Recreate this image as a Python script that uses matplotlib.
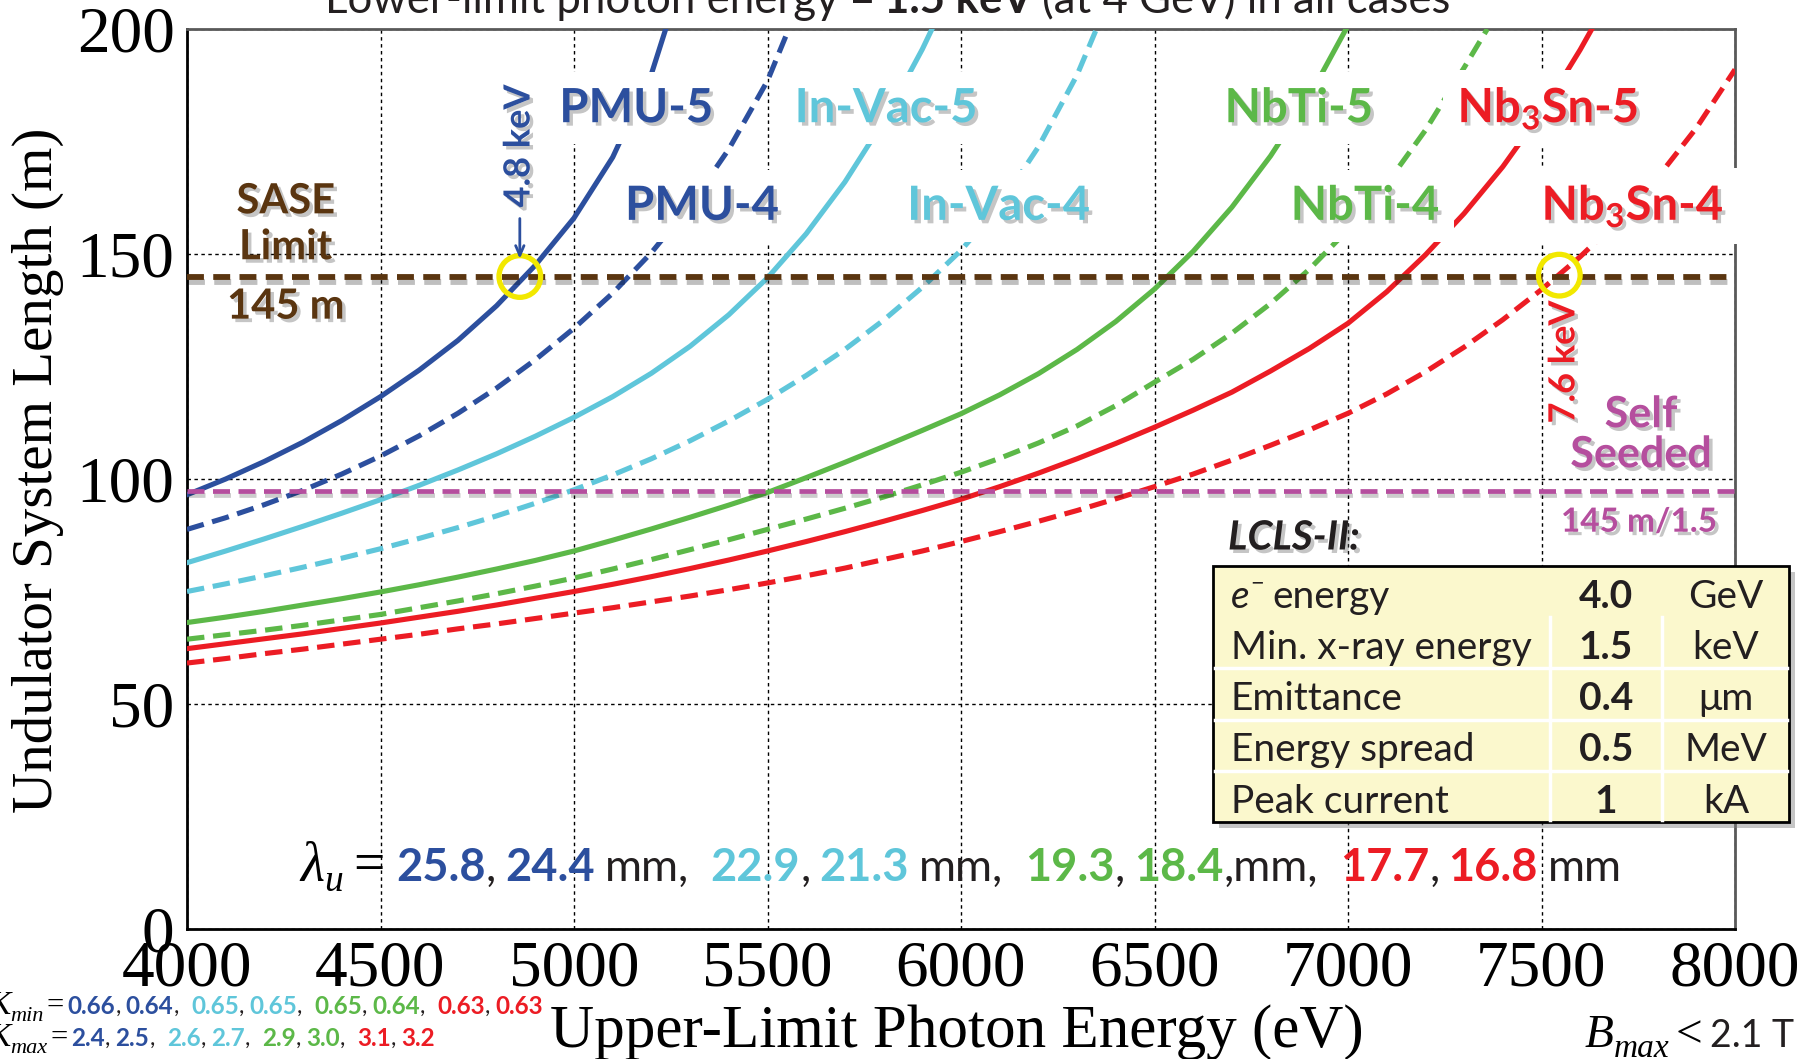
import matplotlib
matplotlib.use("Agg")
import matplotlib.pyplot as plt
import matplotlib.patheffects as pe
from matplotlib.patches import Rectangle

ev_pmu5 = list(range(4000, 5201, 100)) + [5237]
m_pmu5 = [96.5, 100.0, 103.9, 108.2, 113.0, 118.3, 124.2, 130.8, 138.5, 147.5, 158, 171.5, 190, 200]
ev_pmu4 = list(range(4000, 5501, 100)) + [5555]
m_pmu4 = [88.8, 91.4, 94.3, 97.5, 101.1, 105.1, 109.6, 114.6, 120.2, 126.5, 133.5, 141.3, 150.3,
          160.8, 173.3, 188.5, 200]
ev_invac5 = list(range(4000, 5901, 100)) + [5925]
m_invac5 = [81.4, 84.0, 86.7, 89.5, 92.4, 95.4, 98.6, 102.0, 105.6, 109.5, 113.7, 118.3, 123.5,
            129.5, 136.5, 144.7, 154.5, 166.0, 179.5, 195.5, 200]
ev_invac4 = list(range(4000, 6301, 100)) + [6350]
m_invac4 = [75.0, 76.7, 78.5, 80.4, 82.4, 84.5, 86.8, 89.2, 91.8, 94.6, 97.6, 100.9, 104.5, 108.5,
            112.9, 117.7, 123.0, 128.8, 135.3, 142.6, 150.8, 160.8, 173.8, 189.8, 200]
ev_nbti5 = list(range(4000, 6901, 100)) + [6995]
m_nbti5 = [68.1, 69.3, 70.6, 72.0, 73.4, 74.9, 76.5, 78.2, 80.0, 81.9, 84.0, 86.4, 88.9, 91.5, 94.2,
           97.0, 100.3, 103.7, 107.2, 110.8, 114.5, 118.7, 123.4, 128.8, 135.0, 142.2, 150.6, 160.4,
           171.8, 185.0, 200]
ev_nbti4 = list(range(4000, 7301, 100)) + [7360]
m_nbti4 = [64.4, 65.4, 66.4, 67.5, 68.7, 69.9, 71.4, 72.9, 74.5, 76.2, 78.0, 80.0, 82.1, 84.3, 86.5,
           88.8, 91.1, 93.5, 96.0, 98.7, 101.5, 104.6, 108.0, 111.8, 116.3, 121.5, 126.6, 132.4,
           139.0, 146.6, 155.4, 165.6, 177.5, 191.4, 200]
ev_nb3sn5 = list(range(4000, 7601, 100)) + [7630]
m_nb3sn5 = [62.3, 63.4, 64.5, 65.6, 66.8, 68.0, 69.3, 70.6, 72.0, 73.5, 75.0, 76.6, 78.3, 80.1, 82.0,
            84.0, 86.1, 88.3, 90.6, 93.0, 95.5, 98.3, 101.3, 104.5, 107.9, 111.5, 115.3, 119.3,
            124.0, 129.0, 134.6, 141.6, 149.8, 159.0, 169.4, 181.4, 195.4, 200]
ev_nb3sn4 = list(range(4000, 8001, 100))
m_nb3sn4 = [59.1, 60.1, 61.2, 62.2, 63.3, 64.4, 65.5, 66.7, 67.8, 69.0, 70.2, 71.4, 72.7, 74.0, 75.4,
            76.9, 78.5, 80.2, 82.1, 84.0, 86.1, 88.3, 90.6, 93.0, 95.6, 98.3, 101.1, 104.2, 107.5,
            110.9, 114.6, 118.9, 123.8, 129.3, 135.4, 142.1, 149.4, 157.6, 167.0, 178.0, 191.0]

sase_limit = 145
seeded_limit = 97.3
mark_ev = [4860, 7546]
mark_m = [145, 145.3]

lambda_u = [25.8, 24.4, 22.9, 21.3, 19.3, 18.4, 17.7, 16.8]
k_min = [0.66, 0.64, 0.65, 0.65, 0.65, 0.64, 0.63, 0.63]
k_max = [2.4, 2.5, 2.6, 2.7, 2.9, 3.0, 3.1, 3.2]

table_names = ["energy", "Min. x-ray energy", "Emittance", "Energy spread", "Peak current"]
table_vals = ["4.0", "1.5", "0.4", "0.5", "1"]
table_units = ["GeV", "keV", "\u03bcm", "MeV", "kA"]

# ---- style ----
PMU = "#2c4f9e"
INVAC = "#5fc6da"
NBTI = "#5cb848"
NB3SN = "#ec1c24"
BROWN = "#5a3510"
MAGENTA = "#b54e9e"
YELLOW = "#f2e800"
INK = "#231f20"
SANS = "Lato"
SERIF = "Liberation Serif"

plt.rcParams["font.family"] = [SANS, "DejaVu Sans"]
plt.rcParams["mathtext.fontset"] = "custom"
plt.rcParams["mathtext.rm"] = "Lato"
plt.rcParams["mathtext.bf"] = "Lato:bold"
plt.rcParams["mathtext.default"] = "bf"

W, H = 1798, 1059
fig = plt.figure(figsize=(W / 100, H / 100), dpi=100)
ax = fig.add_axes([187 / W, 130 / H, 1548 / W, 900 / H])

shadow = [pe.withSimplePatchShadow(offset=(2.5, -2.5), shadow_rgbFace="0.35", alpha=0.35)]
dash = (0, (3.4, 1.7))

curves = [
    (ev_pmu5, m_pmu5, PMU, "-"), (ev_pmu4, m_pmu4, PMU, dash),
    (ev_invac5, m_invac5, INVAC, "-"), (ev_invac4, m_invac4, INVAC, dash),
    (ev_nbti5, m_nbti5, NBTI, "-"), (ev_nbti4, m_nbti4, NBTI, dash),
    (ev_nb3sn5, m_nb3sn5, NB3SN, "-"), (ev_nb3sn4, m_nb3sn4, NB3SN, dash),
]
for x, y, c, ls in curves:
    ax.plot(x, y, color=c, lw=3.7, linestyle=ls, dash_capstyle="butt", zorder=3)

ax.axhline(sase_limit, color=BROWN, lw=4.2, ls=(0, (2.9, 1.6)), zorder=4,
           path_effects=[pe.SimpleLineShadow(offset=(1, -4), shadow_color="k", alpha=0.25), pe.Normal()])
ax.axhline(seeded_limit, color=MAGENTA, lw=3.4, ls=(0, (3.6, 1.8)), zorder=4,
           path_effects=[pe.SimpleLineShadow(offset=(1, -3), shadow_color="k", alpha=0.2), pe.Normal()])

ax.scatter(mark_ev, mark_m, s=900, facecolors="none", edgecolors=YELLOW, linewidths=3.8, zorder=7)

ax.set_xlim(4000, 8000)
ax.set_ylim(0, 200)
ax.set_xticks(range(4000, 8001, 500))
ax.set_yticks(range(0, 201, 50))
ax.grid(True, color="k", lw=1.0, ls=(0, (2.5, 2.5)))
ax.tick_params(length=0, labelsize=47, labelfontfamily=SERIF)
ax.tick_params(axis="y", pad=9)
ax.tick_params(axis="x", pad=8)
for s in ["left", "bottom"]:
    ax.spines[s].set(color="k", lw=2)
for s in ["top", "right"]:
    ax.spines[s].set(color="0.35", lw=2)

ax.set_xlabel("Upper-Limit Photon Energy (eV)", fontfamily=SERIF, fontsize=44, va="center")
ax.xaxis.set_label_coords(0.497, -0.1144)
ax.set_ylabel("Undulator System Length (m)", fontfamily=SERIF, fontsize=41, va="center")
ax.yaxis.set_label_coords(-0.0963, 0.51)

# curve labels, each on a white box that masks the lines behind it
labels = [
    ("PMU-5", 5161, 182.4, PMU), ("PMU-4", 5331, 160.7, PMU),
    ("In-Vac-5", 5807, 182.4, INVAC), ("In-Vac-4", 6098, 160.7, INVAC),
    ("NbTi-5", 6873, 182.4, NBTI), ("NbTi-4", 7044, 160.7, NBTI),
    ("Nb$_3$Sn-5", 7517, 182.4, NB3SN), ("Nb$_3$Sn-4", 7736, 160.7, NB3SN),
]
for txt, x, y, c in labels:
    ax.text(x, y, txt, color=c, fontsize=34, fontweight="bold", ha="center", va="center",
            zorder=6, path_effects=shadow,
            bbox=dict(boxstyle="square,pad=0.3", fc="white", ec="none"))

for txt, y in [("SASE", 161.7), ("Limit", 151.5), ("145 m", 138.3)]:
    ax.text(4255, y, txt, color=BROWN, fontsize=30, fontweight="bold", ha="center", va="center",
            zorder=6, path_effects=shadow)

ax.text(4858, 174, "4.8 keV", color=PMU, fontsize=26, fontweight="bold", rotation=90,
        ha="center", va="center", zorder=6, path_effects=shadow)
ax.annotate("", xy=(4860, 148.3), xytext=(4860, 158.5), zorder=7,
            arrowprops=dict(arrowstyle="->,head_length=0.7,head_width=0.3", color=PMU, lw=2))
ax.text(7558, 126, "7.6 keV", color=NB3SN, fontsize=26, fontweight="bold", rotation=90,
        ha="center", va="center", zorder=6, path_effects=shadow)

ax.text(7757, 114.4, "Self", color=MAGENTA, fontsize=31, fontweight="bold", ha="center", va="center",
        zorder=6, path_effects=shadow)
ax.text(7757, 105.5, "Seeded", color=MAGENTA, fontsize=31, fontweight="bold", ha="center", va="center",
        zorder=6, path_effects=shadow)
ax.text(7752, 90.4, "145 m/1.5", color=MAGENTA, fontsize=24, fontweight="bold", ha="center", va="center",
        zorder=6, path_effects=shadow)

# ---- overlay in pixel coordinates for table and free text ----
ov = fig.add_axes([0, 0, 1, 1], zorder=10)
ov.set_xlim(0, W)
ov.set_ylim(H, 0)
ov.axis("off")
ov.patch.set_visible(False)
renderer = fig.canvas.get_renderer()


def rich(x, y, pieces):
    # pieces: (text, kwargs, gap in px after)
    for s, kw, gap in pieces:
        kw = dict(kw)
        dy = kw.pop("dy", 0)
        t = ov.text(x, y + dy, s, ha="left", va="baseline", **kw)
        x += t.get_window_extent(renderer).width + gap


B = dict(fontweight="bold")
# title (cut off at top)
rich(325, 13, [("Lower-limit photon energy =", dict(fontsize=31.5, color=INK), 9),
               ("1.5 keV", dict(fontsize=31.5, color=INK, **B), 9),
               ("(at 4 GeV) in all cases", dict(fontsize=31.5, color=INK), 0)])

ov.text(1228, 538, "LCLS-II:", fontsize=29, fontweight="bold", fontstyle="italic", color=INK,
        va="center", ha="left", path_effects=shadow)

# table
tx0, ty0, tw, rh = 1213, 566, 576, 51.2
th = rh * len(table_names)
ov.add_patch(Rectangle((tx0 + 6, ty0 + 6), tw, th, fc="0.5", ec="none", alpha=0.45))
ov.add_patch(Rectangle((tx0, ty0), tw, th, fc="#fbf8cd", ec="k", lw=2))
for i in range(2, len(table_names)):
    ov.plot([tx0 + 2, tx0 + tw - 2], [ty0 + i * rh] * 2, color="white", lw=2.5)
for xc in [1550, 1662]:
    ov.plot([xc, xc], [ty0 + rh, ty0 + th - 2], color="white", lw=2.5)
for i, (name, val, unit) in enumerate(zip(table_names, table_vals, table_units)):
    yc = ty0 + (i + 0.62) * rh
    if i == 0:
        rich(1231, yc + 10, [("e", dict(fontsize=28, fontstyle="italic", color=INK), 1),
                             ("\u2212", dict(fontsize=17, color=INK, dy=-17), 8),
                             (name, dict(fontsize=28, color=INK), 0)])
    else:
        ov.text(1231, yc + 10, name, fontsize=28, color=INK, ha="left", va="baseline")
    ov.text(1606, yc + 10, val, fontsize=28, fontweight="bold", color=INK, ha="center", va="baseline")
    ov.text(1726, yc + 10, unit, fontsize=28, color=INK, ha="center", va="baseline")

# undulator period line
FS = 32.5
cols = [PMU, PMU, INVAC, INVAC, NBTI, NBTI, NB3SN, NB3SN]
pieces = [("\u03bb", dict(fontsize=40, fontfamily=SERIF, fontstyle="italic", color="k"), 0),
          ("u", dict(fontsize=27, fontfamily=SERIF, fontstyle="italic", color="k", dy=10), 10),
          ("=", dict(fontsize=40, fontfamily=SERIF, color="k"), 12)]
for i, v in enumerate(lambda_u):
    pieces.append((f"{v:.1f}", dict(fontsize=FS, color=cols[i], **B), 0))
    if i % 2 == 0:
        pieces.append((",", dict(fontsize=FS, color=INK), 9))
    elif i == 5:
        pieces.append((",mm,", dict(fontsize=FS, color=INK), 22))
    elif i == 7:
        pieces[-1] = (pieces[-1][0], pieces[-1][1], 10)
        pieces.append(("mm", dict(fontsize=FS, color=INK), 0))
    else:
        pieces[-1] = (pieces[-1][0], pieces[-1][1], 10)
        pieces.append(("mm,", dict(fontsize=FS, color=INK), 22))
rich(300, 881, pieces)

# K values bottom left
for lab, vals, fmt, yb in [("min", k_min, "{:.2f}", 1014), ("max", k_max, "{:.1f}", 1046)]:
    pcs = [("K", dict(fontsize=24, fontfamily=SERIF, fontstyle="italic", color="k"), 0),
           (lab, dict(fontsize=16, fontfamily=SERIF, fontstyle="italic", color="k", dy=7), 3),
           ("=", dict(fontsize=22, fontfamily=SERIF, color="k"), 4)]
    for i, v in enumerate(vals):
        pcs.append((fmt.format(v), dict(fontsize=17.5, color=cols[i], **B), 0))
        if i < len(vals) - 1:
            pcs.append((",", dict(fontsize=17.5, color=INK), 5 if i % 2 == 0 else 12))
    rich(-12, yb, pcs)

# B max bottom right
rich(1585, 1047, [("B", dict(fontsize=34, fontfamily=SERIF, fontstyle="italic", color="k"), 0),
                  ("max", dict(fontsize=24, fontfamily=SERIF, fontstyle="italic", color="k", dy=10), 6),
                  ("<", dict(fontsize=34, fontfamily=SERIF, color="k"), 8),
                  ("2.1 T", dict(fontsize=27, color=INK), 0)])

fig.savefig("out.png", dpi=100)
